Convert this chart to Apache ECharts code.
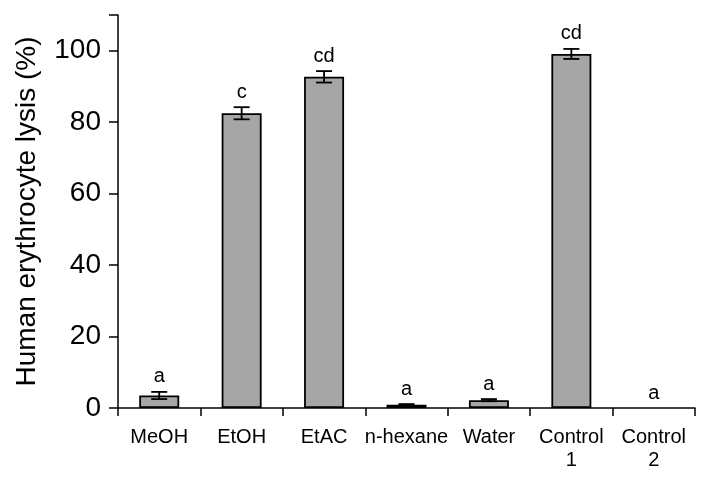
<!DOCTYPE html>
<html><head><meta charset="utf-8">
<script src="https://cdn.jsdelivr.net/npm/echarts@6/dist/echarts.min.js"></script>
<style>html,body{margin:0;padding:0;background:#fff}#c{width:719px;height:482px}</style>
</head><body><div id="c"></div>
<script>
var categories = ['MeOH', 'EtOH', 'EtAC', 'n-hexane', 'Water', 'Control\n1', 'Control\n2'];
var means = [3.5, 82.5, 92.7, 0.9, 2.2, 99.1, 0];
var errors = [1.0, 1.7, 1.6, 0.2, 0.3, 1.4, 0];
var letters = ['a', 'c', 'cd', 'a', 'a', 'cd', 'a'];
var yTicks = [0, 20, 40, 60, 80, 100];

var FONT = 'Liberation Sans, Arial, sans-serif';
var errData = means.map(function (m, i) { return [i, m, errors[i]]; });
var barData = means.map(function (m) {
  return m > 0 ? m : { value: m, itemStyle: { borderWidth: 0 } };
});

var chart = echarts.init(document.getElementById('c'));
chart.setOption({
  animation: false,
  backgroundColor: '#fff',
  grid: { left: 118, right: 24, top: 15, bottom: 74 },
  xAxis: {
    type: 'category',
    data: categories,
    axisLine: { lineStyle: { color: '#000', width: 1.5 } },
    axisTick: { show: true, length: 8, lineStyle: { color: '#000', width: 1.5 } },
    axisLabel: { color: '#000', fontFamily: FONT, fontSize: 20, margin: 18, lineHeight: 23, interval: 0 }
  },
  yAxis: {
    type: 'value',
    min: 0, max: 110, interval: 20,
    name: 'Human erythrocyte lysis (%)',
    nameLocation: 'middle',
    nameGap: 77,
    nameTextStyle: { color: '#000', fontFamily: FONT, fontSize: 28 },
    axisLine: { show: true, lineStyle: { color: '#000', width: 1.5 } },
    axisTick: { show: true, length: 9, lineStyle: { color: '#000', width: 1.5 } },
    axisLabel: {
      color: '#000', fontFamily: FONT, fontSize: 28, margin: 17,
      formatter: function (v) { return yTicks.indexOf(v) >= 0 ? String(v) : ''; }
    },
    splitLine: { show: false }
  },
  series: [
    {
      type: 'bar',
      data: barData,
      barWidth: '48.5%',
      itemStyle: { color: '#a6a6a6', borderColor: '#000', borderWidth: 1.8 }
    },
    {
      type: 'custom',
      data: errData,
      z: 10,
      renderItem: function (params, api) {
        var i = api.value(0), m = api.value(1), e = api.value(2);
        var lab = letters[params.dataIndex];
        var top = api.coord([i, m + e]);
        var bot = api.coord([i, m - e]);
        var x = top[0], hw = 8;
        var children = [];
        if (e > 0) {
          var st = { stroke: '#000', lineWidth: 1.8 };
          children.push({ type: 'line', shape: { x1: x, y1: top[1], x2: x, y2: bot[1] }, style: st });
          children.push({ type: 'line', shape: { x1: x - hw, y1: top[1], x2: x + hw, y2: top[1] }, style: st });
          children.push({ type: 'line', shape: { x1: x - hw, y1: bot[1], x2: x + hw, y2: bot[1] }, style: st });
        }
        children.push({
          type: 'text',
          style: { text: lab, x: x, y: top[1] - 5, align: 'center', verticalAlign: 'bottom',
                   fill: '#000', font: '20px ' + FONT }
        });
        return { type: 'group', children: children };
      }
    }
  ]
});
</script>
</body></html>
